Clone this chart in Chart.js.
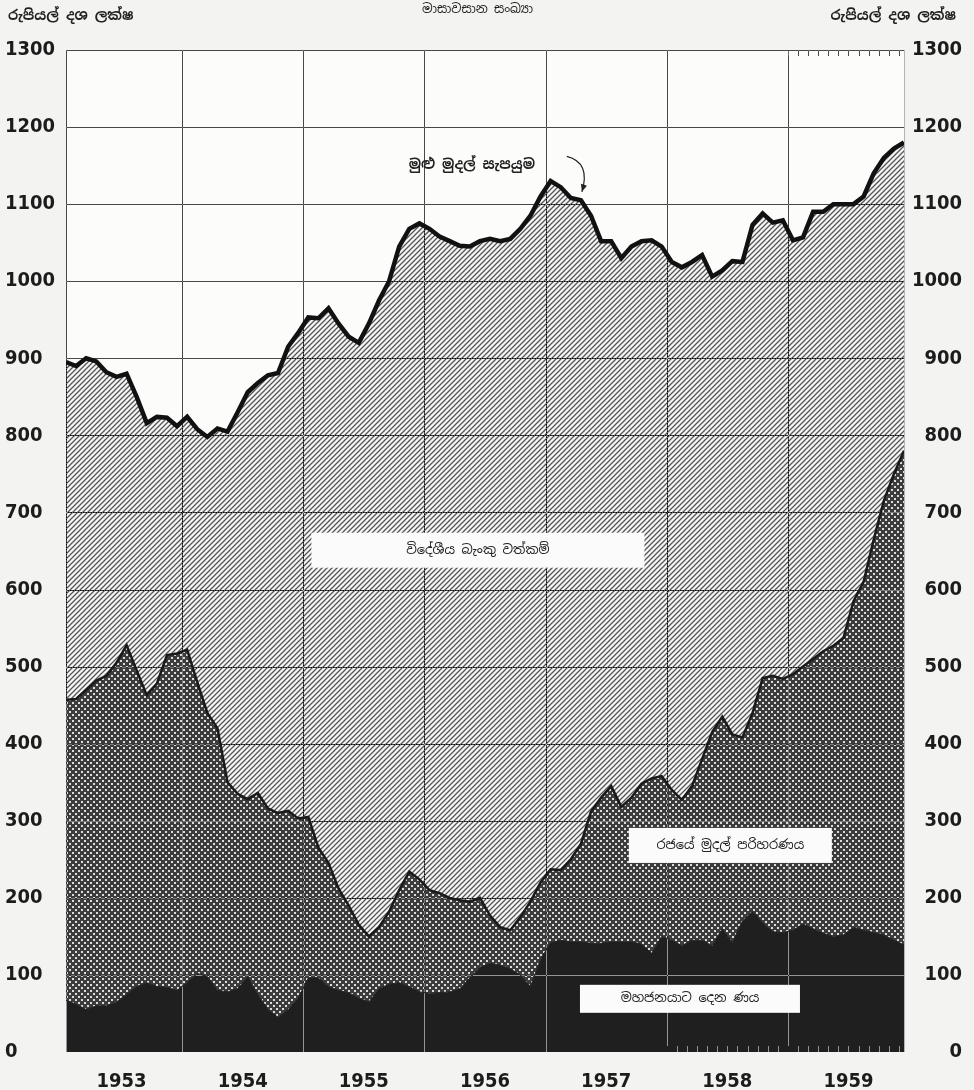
<!DOCTYPE html>
<html>
<head>
<meta charset="utf-8">
<script src="https://cdn.jsdelivr.net/npm/chart.js@4.4.0/dist/chart.umd.min.js"></script>
<style>
  body { margin: 0; background: #f3f3f1; }
  #wrap { position: relative; width: 974px; height: 1090px; }
  .hdr {
    position: absolute;
    font-family: "Noto Sans Sinhala", "Noto Sans", "DejaVu Sans", sans-serif;
    color: #222;
    white-space: nowrap;
  }
</style>
</head>
<body>
<div id="wrap">
  <canvas id="chart" width="974" height="1090"></canvas>
  <div class="hdr" style="left:8px; top:6px; font-size:14px; font-weight:bold;">රුපියල් දශ ලක්ෂ</div>
  <div class="hdr" style="right:18px; top:6px; font-size:14px; font-weight:bold;">රුපියල් දශ ලක්ෂ</div>
  <div class="hdr" style="left:422px; top:0px; font-size:12.5px;">මාසාවසාන සංඛ්‍යා</div>
</div>
<script>
"use strict";

// month-end values, Jan 1953 .. Dec 1959 (Rs. million)
const years = ["1953", "1954", "1955", "1956", "1957", "1958", "1959"];
const yTicks = [0, 100, 200, 300, 400, 500, 600, 700, 800, 900, 1000, 1100, 1200, 1300];

// top line: total money supply
const totalSupply = [
  895, 890, 900, 896, 882, 876, 880, 850, 816, 824, 823, 812,
  824, 808, 798, 809, 805, 830, 856, 868, 878, 881, 915, 933,
  953, 952, 965, 945, 928, 920, 945, 975, 1000, 1045, 1068, 1075,
  1068, 1058, 1052, 1046, 1045, 1052, 1055, 1052, 1055, 1068, 1085, 1110,
  1130, 1122, 1108, 1105, 1085, 1052, 1052, 1030, 1045, 1052, 1053, 1045,
  1025, 1018, 1025, 1034, 1006, 1014, 1026, 1025, 1073, 1088, 1076, 1079,
  1053, 1057, 1090, 1090, 1100, 1100, 1100, 1110, 1140, 1160, 1172, 1180
];

// top of government cash operations band
const govTop = [
  457, 458, 470, 482, 488, 505, 528, 495, 463, 478, 515, 517,
  522, 480, 440, 420, 350, 335, 328, 336, 316, 310, 313, 303,
  305, 265, 245, 212, 190, 165, 150, 162, 182, 210, 234, 224,
  210, 206, 200, 197, 195, 200, 177, 162, 158, 175, 195, 220,
  237, 236, 250, 270, 312, 330, 345, 318, 330, 348, 355, 358,
  340, 327, 345, 380, 415, 435, 412, 408, 440, 485, 488, 484,
  490, 500, 510, 520, 527, 537, 585, 610, 665, 715, 750, 780
];

// loans to the public
const loansTop = [
  67, 62, 55, 60, 60, 65, 75, 85, 90, 85, 84, 80,
  90, 102, 98, 80, 78, 82, 98, 75, 55, 45, 55, 70,
  96, 96, 85, 80, 77, 70, 65, 82, 88, 90, 85, 78,
  76, 77, 78, 82, 96, 110, 115, 113, 108, 100, 85, 120,
  142, 145, 143, 143, 141, 141, 143, 143, 143, 140, 128, 150,
  145, 138, 145, 145, 138, 160, 142, 170, 183, 168, 156, 155,
  158, 166, 160, 154, 150, 152, 162, 158, 155, 152, 145, 139
];

const sinhala = '"Noto Sans Sinhala", "Noto Sans", "DejaVu Sans", sans-serif';
const numFont = '"DejaVu Sans Condensed", "DejaVu Sans", sans-serif';

function hatchPattern() {
  const c = document.createElement("canvas");
  c.width = c.height = 5;
  const g = c.getContext("2d");
  g.fillStyle = "#f6f6f6";
  g.fillRect(0, 0, 5, 5);
  g.strokeStyle = "#555";
  g.lineWidth = 1.3;
  g.beginPath();
  g.moveTo(-1, 6); g.lineTo(6, -1);
  g.moveTo(-1, 1); g.lineTo(1, -1);
  g.moveTo(4, 6); g.lineTo(6, 4);
  g.stroke();
  return g.createPattern(c, "repeat");
}

function crossPattern() {
  const c = document.createElement("canvas");
  c.width = c.height = 6;
  const g = c.getContext("2d");
  g.fillStyle = "#3c3c3c";
  g.fillRect(0, 0, 6, 6);
  g.fillStyle = "#dcdcdc";
  g.fillRect(0, 0, 2, 2);
  g.fillRect(3, 3, 2, 2);
  return g.createPattern(c, "repeat");
}

const xy = arr => arr.map((v, i) => ({ x: i, y: v }));

// grid drawn over the fills, reversed in tone like the print
const gridPlugin = {
  id: "grid",
  beforeDatasetsDraw(chart) {
    const { ctx, chartArea: a, scales } = chart;
    const x = scales.x, y = scales.y;
    ctx.save();
    ctx.globalCompositeOperation = "difference";
    ctx.strokeStyle = "#b4b4b4";
    ctx.lineWidth = 1;
    ctx.beginPath();
    yTicks.forEach(v => {
      if (v === 0) return;
      const py = Math.round(y.getPixelForValue(v)) + 0.5;
      ctx.moveTo(a.left, py); ctx.lineTo(a.right, py);
    });
    const xs = [0, 83];
    for (let k = 1; k < years.length; k++) xs.push(12 * k - 0.5);
    xs.forEach(v => {
      const px = Math.round(x.getPixelForValue(v)) + 0.5;
      ctx.moveTo(px, a.top); ctx.lineTo(px, a.bottom);
    });
    // month ticks
    for (let m = 72; m <= 83; m++) {
      const px = Math.round(x.getPixelForValue(m - 0.5)) + 0.5;
      ctx.moveTo(px, a.top); ctx.lineTo(px, a.top + 6);
    }
    for (let m = 60; m <= 83; m++) {
      const px = Math.round(x.getPixelForValue(m - 0.5)) + 0.5;
      ctx.moveTo(px, a.bottom); ctx.lineTo(px, a.bottom - 6);
    }
    ctx.stroke();
    ctx.restore();
  }
};

const labelPlugin = {
  id: "labels",
  afterDatasetsDraw(chart) {
    const { ctx, scales } = chart;
    const x = scales.x, y = scales.y;
    const box = (mx, v, w, h, text, size) => {
      const cx = x.getPixelForValue(mx), cy = y.getPixelForValue(v);
      ctx.fillStyle = "#fbfbfb";
      ctx.fillRect(cx - w / 2, cy - h / 2, w, h);
      ctx.fillStyle = "#222";
      ctx.font = size + "px " + sinhala;
      ctx.textAlign = "center";
      ctx.textBaseline = "middle";
      ctx.fillText(text, cx, cy);
    };
    ctx.save();
    box(40.8, 651, 333, 35, "විදේශීය බැංකු වත්කම්", 13);
    box(65.8, 268, 203, 35, "රජයේ මුදල් පරිහරණය", 13);
    box(61.8, 69, 220, 28, "මහජනයාට දෙන ණය", 13);

    ctx.fillStyle = "#222";
    ctx.font = "bold 14px " + sinhala;
    ctx.textAlign = "center";
    ctx.textBaseline = "middle";
    ctx.fillText("මුළු මුදල් සැපයුම", x.getPixelForValue(40.2), y.getPixelForValue(1150));

    // curved pointer to the total line
    const sx = x.getPixelForValue(49.6), sy = y.getPixelForValue(1162);
    const ex = x.getPixelForValue(51.1), ey = y.getPixelForValue(1116);
    ctx.strokeStyle = "#222";
    ctx.lineWidth = 1.2;
    ctx.beginPath();
    ctx.moveTo(sx, sy);
    ctx.quadraticCurveTo(sx + 24, sy + 6, ex, ey);
    ctx.stroke();
    ctx.beginPath();
    ctx.moveTo(ex, ey);
    ctx.lineTo(ex - 1, ey - 8);
    ctx.lineTo(ex + 5, ey - 6);
    ctx.closePath();
    ctx.fill();
    ctx.restore();
  }
};

const areaBg = {
  id: "areaBg",
  beforeDraw(chart) {
    const { ctx, chartArea: a } = chart;
    ctx.save();
    ctx.fillStyle = "#fcfcfb";
    ctx.fillRect(a.left, a.top, a.right - a.left, a.bottom - a.top);
    ctx.restore();
  }
};

const yAxis = (pos, w) => ({
  position: pos,
  min: 0,
  max: 1300,
  afterBuildTicks: s => { s.ticks = yTicks.map(v => ({ value: v })); },
  afterFit: s => { s.width = w; },
  grid: { display: false },
  border: { display: false },
  ticks: {
    crossAlign: "far",
    padding: 0,
    color: "#1c1c1c",
    font: { family: numFont, size: 20, weight: "bold" },
    callback: v => String(v)
  }
});

new Chart(document.getElementById("chart"), {
  type: "line",
  data: {
    datasets: [
      {
        label: "මුළු මුදල් සැපයුම",
        data: xy(totalSupply),
        borderColor: "#111",
        borderWidth: 4.5,
        backgroundColor: hatchPattern(),
        fill: "+1"
      },
      {
        label: "රජයේ මුදල් පරිහරණය",
        data: xy(govTop),
        borderColor: "#1a1a1a",
        borderWidth: 2.5,
        backgroundColor: crossPattern(),
        fill: "+1"
      },
      {
        label: "මහජනයාට දෙන ණය",
        data: xy(loansTop),
        borderColor: "#1f1f1f",
        borderWidth: 1,
        backgroundColor: "#1f1f1f",
        fill: "origin"
      }
    ]
  },
  options: {
    responsive: false,
    animation: false,
    events: [],
    elements: { point: { radius: 0 }, line: { tension: 0, borderJoinStyle: "miter" } },
    layout: { padding: { left: 5, right: 12, top: 50, bottom: 0 } },
    plugins: {
      legend: { display: false },
      tooltip: { enabled: false },
      filler: { drawTime: "beforeDatasetsDraw" }
    },
    scales: {
      x: {
        type: "linear",
        min: 0,
        max: 83,
        afterBuildTicks: s => { s.ticks = years.map((y, k) => ({ value: 5.5 + 12 * k })); },
        afterFit: s => { s.height = 38; },
        grid: { display: false },
        border: { display: false },
        ticks: {
          autoSkip: false,
          maxRotation: 0,
          padding: 10,
          color: "#1c1c1c",
          font: { family: numFont, size: 20, weight: "bold" },
          callback: (v, i) => years[i]
        }
      },
      y: yAxis("left", 61),
      y2: yAxis("right", 58)
    }
  },
  plugins: [areaBg, gridPlugin, labelPlugin]
});
</script>
</body>
</html>
